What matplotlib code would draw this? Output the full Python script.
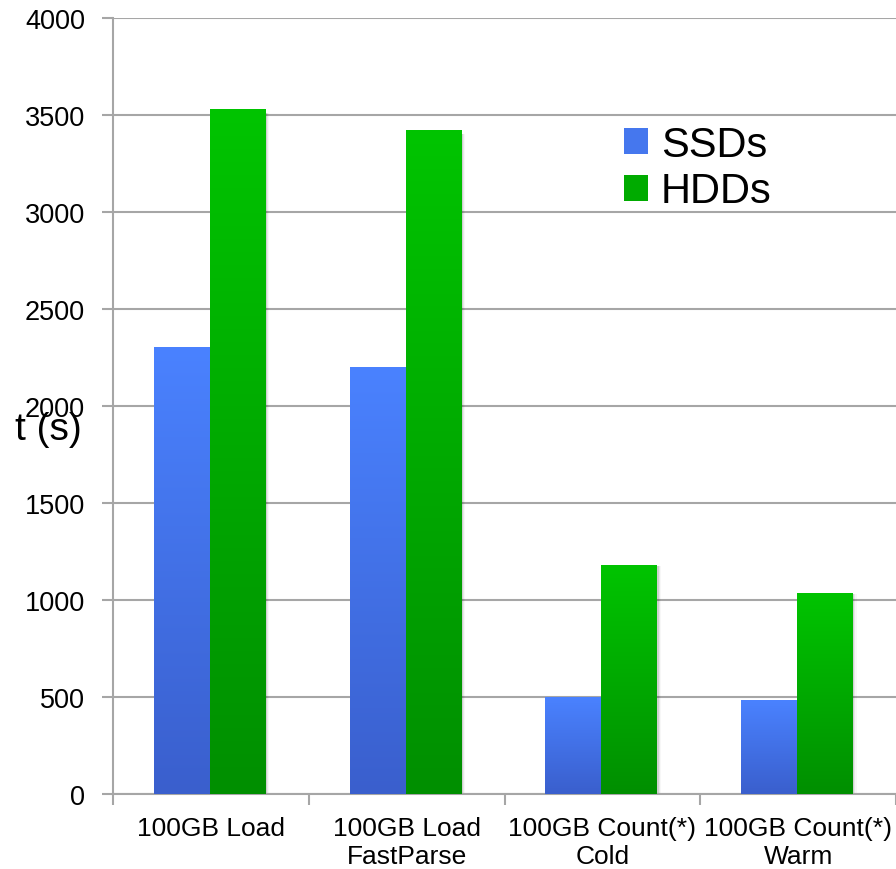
import numpy as np
import matplotlib
matplotlib.use("Agg")
import matplotlib.pyplot as plt
from matplotlib.colors import LinearSegmentedColormap
from matplotlib.patches import Patch, Rectangle

plt.rcParams['font.family'] = ['Liberation Sans', 'DejaVu Sans']

categories = ["100GB Load", "100GB Load\nFastParse", "100GB Count(*)\nCold", "100GB Count(*)\nWarm"]
ssd_times = [2300, 2200, 500, 480]
hdd_times = [3530, 3420, 1180, 1035]
series_names = ["SSDs", "HDDs"]
y_ticks = [0, 500, 1000, 1500, 2000, 2500, 3000, 3500, 4000]

W, H = 896, 870
fig = plt.figure(figsize=(W / 100, H / 100), dpi=100)
ax = fig.add_axes([113 / W, 75 / H, 783 / W, 776 / H])

grid_color = "#a6a6a6"
ssd_grad = LinearSegmentedColormap.from_list("ssd", ["#3a5fcd", "#4a82ff"])
hdd_grad = LinearSegmentedColormap.from_list("hdd", ["#008f00", "#00c400"])

bar_w = 0.286
x = np.arange(len(categories)) + 0.495


def gradient_bars(xs, values, cmap):
    bars = ax.bar(xs, values, width=bar_w, color="none", zorder=3)
    grad = np.linspace(0, 1, 256).reshape(-1, 1)
    for b in bars:
        x0, w, h = b.get_x(), b.get_width(), b.get_height()
        # soft shadow on the right side
        for k, a in enumerate([0.10, 0.06, 0.03]):
            ax.add_patch(Rectangle((x0 + w, 0), 0.006 * (k + 1), h * 0.995,
                                   color="black", alpha=a, lw=0, zorder=2))
        ax.imshow(grad, extent=[x0, x0 + w, 0, h], origin="lower",
                  cmap=cmap, aspect="auto", zorder=3, interpolation="bicubic")
    return bars


gradient_bars(x - bar_w / 2, ssd_times, ssd_grad)
gradient_bars(x + bar_w / 2, hdd_times, hdd_grad)

ax.set_xlim(0, 4)
ax.set_ylim(0, 4000)
ax.set_yticks(y_ticks)
ax.set_yticklabels([str(v) for v in y_ticks], fontsize=19.5)
ax.yaxis.grid(True, color=grid_color, lw=1.5, zorder=0)
ax.set_axisbelow(True)

ax.set_xticks(np.arange(len(categories) + 1))
ax.set_xticklabels([])
ax.set_xticks(np.arange(len(categories)) + 0.5, minor=True)
ax.set_xticklabels(categories, minor=True, fontsize=19, linespacing=1.2)
ax.tick_params(axis="x", which="major", length=8, width=1.5, color=grid_color)
ax.tick_params(axis="x", which="minor", length=0, pad=16)
ax.tick_params(axis="y", length=8, width=1.5, color=grid_color, pad=12)

for s in ["top", "right"]:
    ax.spines[s].set_visible(False)
for s in ["left", "bottom"]:
    ax.spines[s].set_color(grid_color)
    ax.spines[s].set_linewidth(1.5)

fig.text(48 / W, 1 - 430 / H, "t (s)", fontsize=28, ha="center", va="center")

handles = [Patch(facecolor="#4577ee", edgecolor="none"),
           Patch(facecolor="#00ab00", edgecolor="none")]
fig.legend(handles, series_names, loc="upper left",
           bbox_to_anchor=(624 / W, 1 - 126 / H), frameon=False,
           fontsize=30, handlelength=0.58, handleheight=0.58,
           handletextpad=0.3, labelspacing=0.15, borderpad=0, borderaxespad=0)

fig.savefig("out.png", dpi=100)
